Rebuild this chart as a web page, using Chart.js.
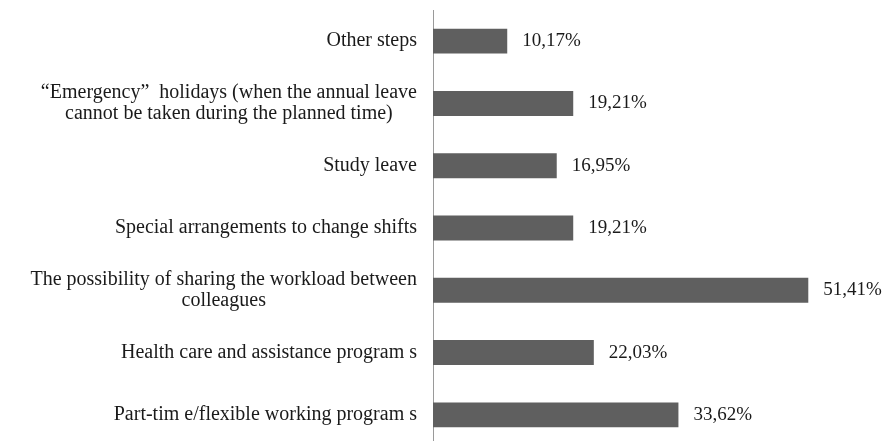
<!DOCTYPE html>
<html>
<head>
<meta charset="utf-8">
<script src="https://cdn.jsdelivr.net/npm/chart.js@4"></script>
<style>
  html, body { margin: 0; padding: 0; background: #fff; overflow: hidden; }
  #wrap { width: 885px; height: 447px; position: relative; }
</style>
</head>
<body>
<div id="wrap"><canvas id="chart"></canvas></div>
<script>
// categories, top to bottom as drawn
const categories = [
    'Other steps',
    ['\u201cEmergency\u201d  holidays (when the annual leave', 'cannot be taken during the planned time)'],
    'Study leave',
    'Special arrangements to change shifts',
    ['The possibility of sharing the workload between', 'colleagues'],
    'Health care and assistance program s',
    'Part-tim e/flexible working program s'
];
const shares = [10.17, 19.21, 16.95, 19.21, 51.41, 22.03, 33.62];

const barColor = '#5f5f5f';
const textColor = '#1a1a1a';
const fontFamily = '"Liberation Serif", "Times New Roman", serif';

// category labels: block right-aligned to the axis, lines centred inside the block
const categoryLabels = {
    id: 'categoryLabels',
    afterDraw(chart) {
        const ctx = chart.ctx;
        const scale = chart.scales.y;
        const lineH = 21;
        ctx.save();
        ctx.font = '20px ' + fontFamily;
        ctx.fillStyle = textColor;
        ctx.textBaseline = 'middle';
        ctx.textAlign = 'center';
        categories.forEach((label, i) => {
            const lines = Array.isArray(label) ? label : [label];
            const widest = Math.max(...lines.map(l => ctx.measureText(l).width));
            const cx = scale.right - 16 - widest / 2;
            const y = scale.getPixelForTick(i);
            lines.forEach((l, k) => {
                ctx.fillText(l, cx, y + (k - (lines.length - 1) / 2) * lineH);
            });
        });
        ctx.restore();
    }
};

// draws "10,17%" style labels right of each bar
const valueLabels = {
    id: 'valueLabels',
    afterDatasetsDraw(chart) {
        const ctx = chart.ctx;
        const meta = chart.getDatasetMeta(0);
        ctx.save();
        ctx.font = '19px ' + fontFamily;
        ctx.fillStyle = textColor;
        ctx.textBaseline = 'middle';
        ctx.textAlign = 'left';
        meta.data.forEach((bar, i) => {
            const txt = shares[i].toFixed(2).replace('.', ',') + '%';
            ctx.fillText(txt, bar.x + 15, bar.y);
        });
        ctx.restore();
    }
};

new Chart(document.getElementById('chart'), {
    type: 'bar',
    data: {
        labels: categories,
        datasets: [{
            data: shares,
            backgroundColor: barColor,
            borderWidth: 0,
            categoryPercentage: 1,
            barPercentage: 0.4
        }]
    },
    options: {
        indexAxis: 'y',
        responsive: true,
        maintainAspectRatio: false,
        animation: false,
        layout: { padding: { top: 10, bottom: 1, left: 0, right: 14 } },
        plugins: {
            legend: { display: false },
            tooltip: { enabled: false }
        },
        scales: {
            x: {
                display: false,
                min: 0,
                max: 60
            },
            y: {
                afterFit: (scale) => {
                    scale.width = 433;
                    scale.paddingTop = 0;
                    scale.paddingBottom = 0;
                },
                grid: { drawOnChartArea: false, drawTicks: false },
                border: { color: '#9a9a9a', width: 1 },
                ticks: { display: false }
            }
        }
    },
    plugins: [categoryLabels, valueLabels]
});
</script>
</body>
</html>
